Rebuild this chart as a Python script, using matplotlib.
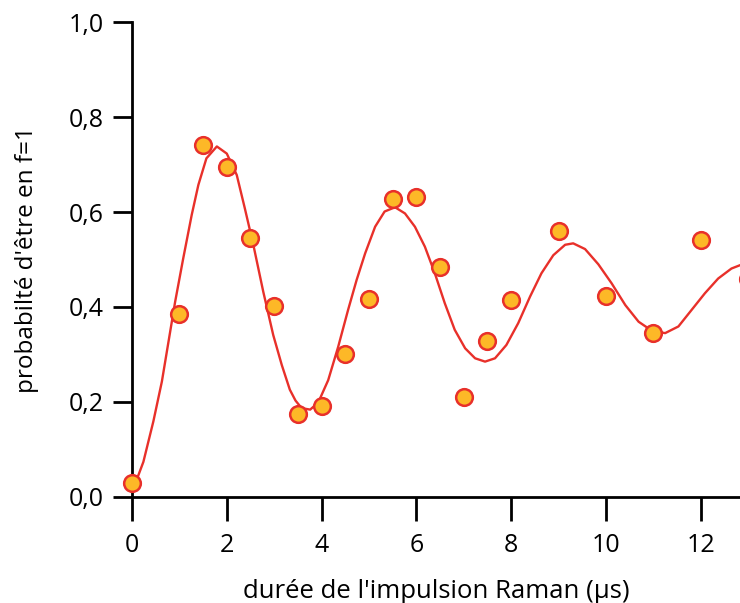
import matplotlib.pyplot as plt

plt.rcParams['font.family'] = ['Open Sans', 'DejaVu Sans']

# mesures (durée en µs, probabilité)
t_mes = [0, 1, 1.5, 2, 2.5, 3, 3.5, 4, 4.5, 5, 5.5, 6, 6.5, 7, 7.5, 8, 9, 10, 11, 12, 13]
p_mes = [0.03, 0.385, 0.741, 0.695, 0.545, 0.402, 0.175, 0.192, 0.301, 0.417, 0.627,
         0.632, 0.484, 0.211, 0.328, 0.415, 0.560, 0.423, 0.345, 0.541, 0.46]

# courbe ajustée
t_fit = [0.0, 0.06, 0.24, 0.45, 0.63, 0.77, 0.91, 1.08, 1.26, 1.40, 1.57, 1.79, 2.00,
         2.21, 2.38, 2.56, 2.77, 2.98, 3.16, 3.33, 3.45, 3.58, 3.76, 3.93, 4.14, 4.35,
         4.56, 4.74, 4.92, 5.13, 5.33, 5.55, 5.76, 5.97, 6.18, 6.39, 6.60, 6.81, 7.03,
         7.24, 7.45, 7.66, 7.90, 8.15, 8.40, 8.64, 8.89, 9.14, 9.31, 9.56, 9.84, 10.12,
         10.41, 10.69, 10.97, 11.25, 11.53, 11.81, 12.09, 12.37, 12.65, 12.83, 13.0]
p_fit = [0.012, 0.026, 0.074, 0.159, 0.243, 0.327, 0.411, 0.502, 0.594, 0.657, 0.713,
         0.738, 0.723, 0.678, 0.608, 0.531, 0.432, 0.341, 0.278, 0.226, 0.203, 0.187,
         0.184, 0.199, 0.246, 0.316, 0.394, 0.457, 0.513, 0.569, 0.601, 0.610, 0.597,
         0.569, 0.527, 0.471, 0.408, 0.352, 0.313, 0.292, 0.285, 0.292, 0.320, 0.366,
         0.422, 0.471, 0.509, 0.531, 0.534, 0.522, 0.490, 0.450, 0.404, 0.369, 0.350,
         0.345, 0.359, 0.394, 0.429, 0.460, 0.481, 0.488, 0.495]

x_ticks = [0, 2, 4, 6, 8, 10, 12]
y_ticks = [0.0, 0.2, 0.4, 0.6, 0.8, 1.0]
y_labels = ['0,0', '0,2', '0,4', '0,6', '0,8', '1,0']

fig = plt.figure(figsize=(7.4, 6.03), dpi=100)
ax = fig.add_axes([0.1784, 0.1758, 0.8216, 0.7877])

ax.plot(t_fit, p_fit, color='#e8302a', lw=1.7, zorder=3, solid_joinstyle='round')
ax.plot(t_mes, p_mes, 'o', ms=12, mfc='#fdb827', mec='#e8302a', mew=1.8,
        zorder=4, clip_on=False)

ax.set_xlim(0, 12.83)
ax.set_ylim(0, 1.0)

for s in ['top', 'right']:
    ax.spines[s].set_visible(False)
for s in ['left', 'bottom']:
    ax.spines[s].set_linewidth(2)

ax.set_xticks(x_ticks)
ax.set_yticks(y_ticks)
ax.set_yticklabels(y_labels)
ax.tick_params(axis='y', length=14, width=2, pad=6, labelsize=18)
ax.tick_params(axis='x', length=17, width=2, pad=9, labelsize=18)

ax.set_xlabel("durée de l'impulsion Raman (µs)", fontsize=18.5, labelpad=15)
ax.set_ylabel("probabilté d'être en f=1", fontsize=17.5, labelpad=22)

fig.savefig('out.png', dpi=100)
